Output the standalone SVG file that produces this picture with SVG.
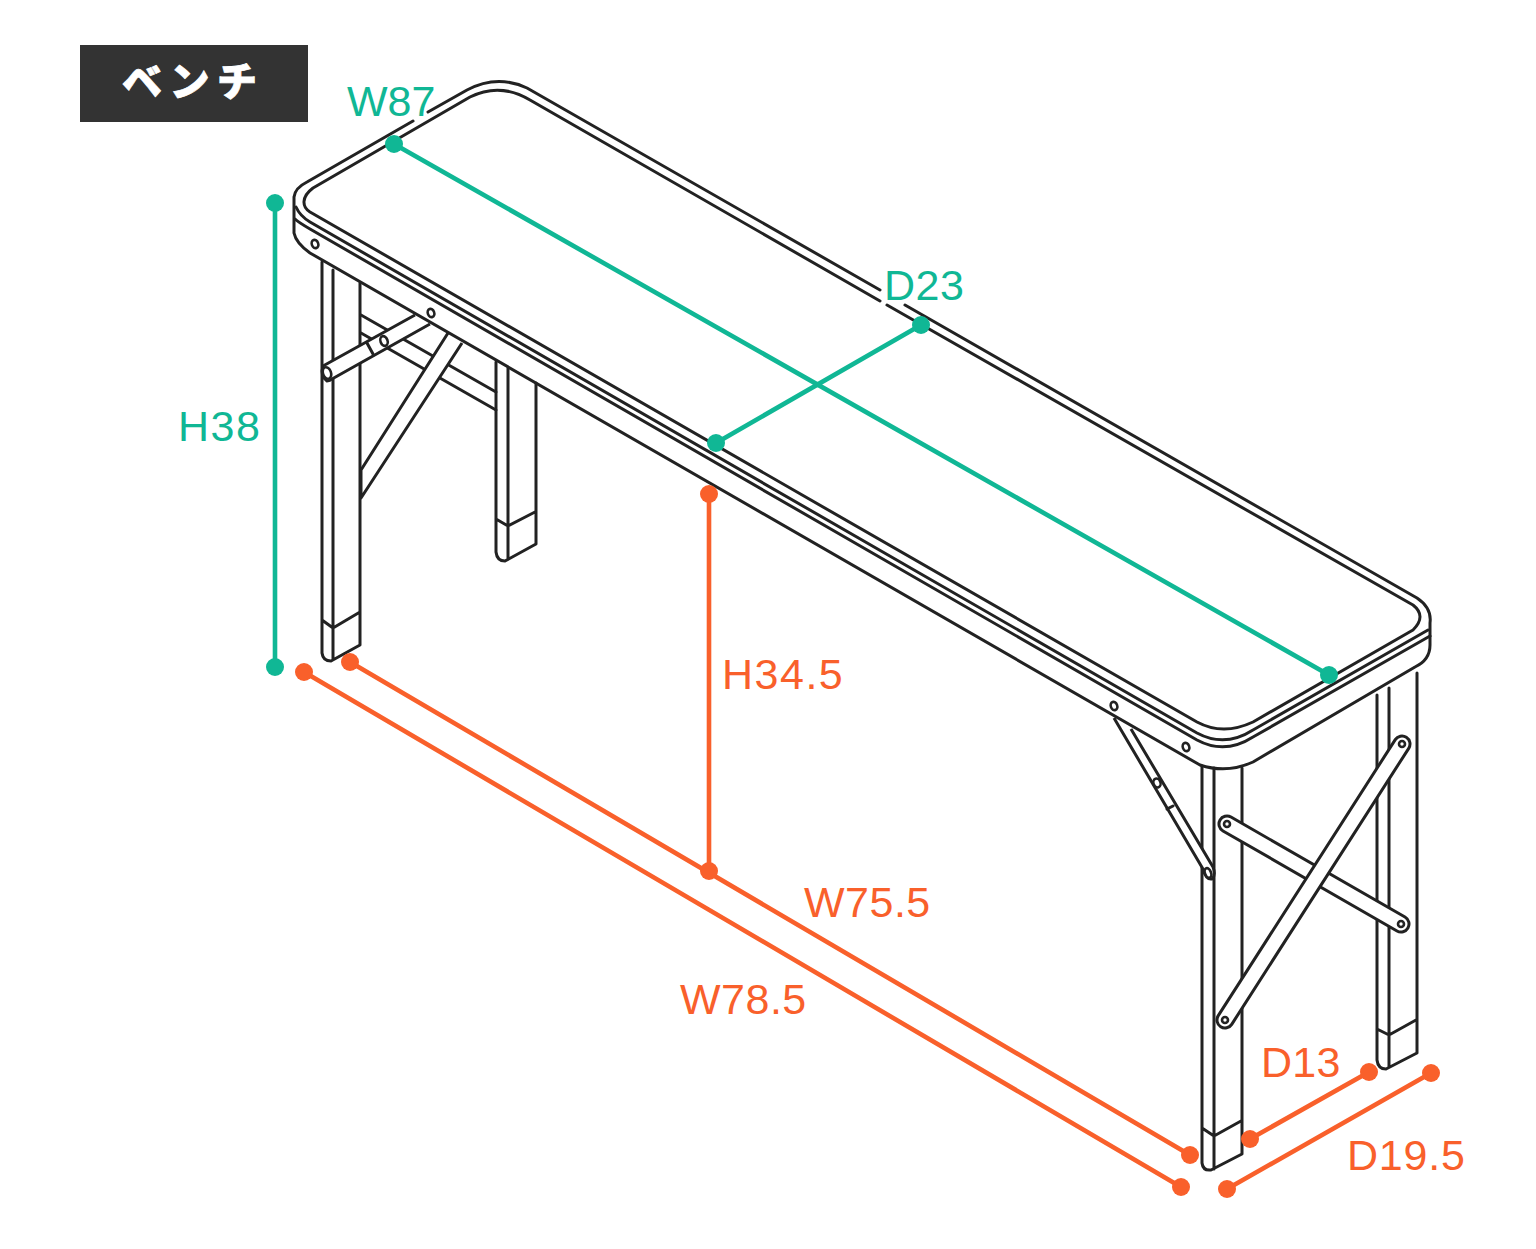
<svg xmlns="http://www.w3.org/2000/svg" width="1536" height="1249" viewBox="0 0 1536 1249">
<style>
.l{fill:none;stroke:#222;stroke-width:3;stroke-linecap:round;stroke-linejoin:round}
.f{fill:#fff;stroke:#222;stroke-width:3;stroke-linejoin:round}
.h{fill:#fff;stroke:#222;stroke-width:2.6}
.cd{fill:none;stroke:#222;stroke-width:19;stroke-linecap:round}
.cw{fill:none;stroke:#fff;stroke-width:13;stroke-linecap:round}
.g{stroke:#10b795;fill:#10b795}
.o{stroke:#f9602b;fill:#f9602b}
.d{stroke-width:4.6;fill:none}
.t{font-family:"Liberation Sans",Arial,sans-serif;font-size:43px;stroke:none}
.tg{fill:#10b795}
.to{fill:#f9602b}
</style>
<rect width="1536" height="1249" fill="#fff"/>
<g id="title">
<rect x="80" y="45" width="228" height="77" fill="#333"/>
<text x="122" y="96" font-family="'Noto Sans CJK JP',sans-serif" font-weight="900" font-size="40" letter-spacing="7.5" fill="#fff" stroke="#fff" stroke-width="0.8">ベンチ</text>
</g>
<g id="bench">
<g id="leg-back-left" class="l">
<path d="M496 362V552Q497 561 505 561L536 544V383M508 368V558M496 519L508 526L535 512"/>
</g>
<g id="leg-front-left" class="l">
<path d="M322 262V653Q323 661 331 661L360 645V283M333 270V659M322 620L333 628L360 612"/>
<path d="M361 315L496 392M361 333L496 410"/>
</g>
<g id="leg-front-right" class="l">
<path d="M1202 766V1163Q1203 1171 1211 1170L1242 1154V768M1214 768V1169M1202 1128L1214 1136L1241 1121"/>
</g>
<g id="leg-back-right" class="l">
<path d="M1377 695V1060Q1378 1069 1386 1069L1417 1053V673M1389 688V1067M1377 1029L1389 1035L1416 1020"/>
</g>
<g id="brace-left">
<path class="f" d="M415 315L323 366Q320 376 327 381Q330 381 332 379L430 324"/>
<ellipse class="h" cx="327" cy="373" rx="4" ry="6" transform="rotate(-20 327 373)"/>
<path class="l" d="M367 343L373 354"/>
<ellipse class="h" cx="384" cy="341" rx="3.5" ry="5" transform="rotate(-20 384 341)"/>
<path class="f" d="M448 333L361 470V498L462 343"/>
</g>
<g id="brace-right">
<path class="f" d="M1114 718L1203 869Q1206 880 1212 879Q1216 875 1213 867L1131 729"/>
<ellipse class="h" cx="1208" cy="873" rx="3" ry="5" transform="rotate(-20 1208 873)"/>
<ellipse class="h" cx="1157" cy="783" rx="3.5" ry="4.5" transform="rotate(-20 1157 783)"/>
<path class="l" d="M1167 809L1173 806"/>
<path class="cd" d="M1227 824L1401 924"/>
<path class="cw" d="M1227 824L1401 924"/>
<circle class="h" cx="1227" cy="824" r="3"/>
<circle class="h" cx="1401" cy="924" r="3"/>
<path class="cd" d="M1402 744L1225 1020"/>
<path class="cw" d="M1402 744L1225 1020"/>
<circle class="h" cx="1402" cy="744" r="3"/>
<circle class="h" cx="1225" cy="1020" r="3"/>
</g>
<g id="top" class="l">
<path d="M428 112L467 90Q497 74 527 88L880 290M905 305L1417 598Q1432 608 1430 623V645Q1430 660 1415 667L1253 762Q1227 774 1200 765L310 253Q296 243 294 233V197Q295 188 307 182L413 121"/>
<path d="M887 305L1413 605Q1427 616 1413 630L1253 722Q1223 736 1197 722L310 212C302 207 301 197 313 188L470 97Q500 82 530 100L880 301"/>
<path d="M296 207Q300 216 310 222L1197 733Q1225 748 1253 730L1428 630"/>
<path d="M295 219Q298 222 310 229L1197 740Q1225 755 1253 737L1430 636"/>
</g>
<g id="bolts">
<ellipse class="h" cx="315" cy="244" rx="3.2" ry="4.2" transform="rotate(-20 315 244)"/>
<ellipse class="h" cx="431" cy="313" rx="3.2" ry="4.2" transform="rotate(-20 431 313)"/>
<ellipse class="h" cx="1114" cy="706" rx="3.2" ry="4.2" transform="rotate(-20 1114 706)"/>
<ellipse class="h" cx="1186" cy="747" rx="3.2" ry="4.2" transform="rotate(-20 1186 747)"/>
</g>
</g>
<g id="connectors">
<g class="g">
<path class="d" d="M275 203V667M394 144L1329 675M716 443L921 325"/>
<circle cx="275" cy="203" r="9" stroke="none"/><circle cx="275" cy="667" r="9" stroke="none"/>
<circle cx="394" cy="144" r="9" stroke="none"/><circle cx="1329" cy="675" r="9" stroke="none"/>
<circle cx="716" cy="443" r="9" stroke="none"/><circle cx="921" cy="325" r="9" stroke="none"/>
</g>
<g class="o">
<path class="d" d="M709 494V871M350 662L1190 1155M304 672L1181 1187M1250 1139L1369 1072M1227 1189L1431 1073"/>
<circle cx="709" cy="494" r="9" stroke="none"/><circle cx="709" cy="871" r="9" stroke="none"/>
<circle cx="350" cy="662" r="9" stroke="none"/><circle cx="1190" cy="1155" r="9" stroke="none"/>
<circle cx="304" cy="672" r="9" stroke="none"/><circle cx="1181" cy="1187" r="9" stroke="none"/>
<circle cx="1250" cy="1139" r="9" stroke="none"/><circle cx="1369" cy="1072" r="9" stroke="none"/>
<circle cx="1227" cy="1189" r="9" stroke="none"/><circle cx="1431" cy="1073" r="9" stroke="none"/>
</g>
</g>
<g id="labels">
<text class="t tg" x="347" y="116">W87</text>
<text class="t tg" x="884" y="300" letter-spacing="0.5">D23</text>
<text class="t tg" x="178" y="441" letter-spacing="1.5">H38</text>
<text class="t to" x="722" y="689" letter-spacing="1.5">H34.5</text>
<text class="t to" x="804" y="917" letter-spacing="0.5">W75.5</text>
<text class="t to" x="680" y="1014" letter-spacing="0.5">W78.5</text>
<text class="t to" x="1261" y="1077" letter-spacing="0.3">D13</text>
<text class="t to" x="1347" y="1170" letter-spacing="0.8">D19.5</text>
</g>
</svg>
